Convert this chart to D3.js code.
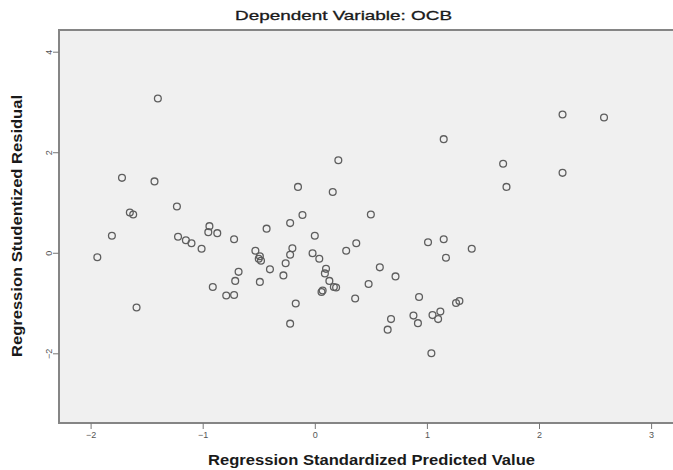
<!DOCTYPE html>
<html>
<head>
<meta charset="utf-8">
<script src="https://cdn.jsdelivr.net/npm/d3@7"></script>
<style>
  body { margin: 0; background: #ffffff; }
  svg { display: block; }
  .tickText { font-family: "Liberation Sans", Arial, sans-serif; font-size: 9px; fill: #555555; }
  .aText { font-family: "Liberation Sans", Arial, sans-serif; font-weight: bold; font-size: 14px; fill: #1a1a1a; }
</style>
</head>
<body>
<div id="scatter"></div>
<script>
// Chart data
var predictedValues = [
  -1.94, -1.81, -1.72, -1.65, -1.62, -1.59, -1.43, -1.40, -1.23, -1.22,
  -1.15, -1.10, -1.01, -0.94, -0.95, -0.87, -0.91, -0.72, -0.68, -0.71,
  -0.79, -0.72, -0.53, -0.49, -0.48, -0.50, -0.49, -0.43, -0.40, -0.28,
  -0.26, -0.22, -0.20, -0.22, -0.17, -0.22, -0.15, -0.11, 0.00, -0.02,
  0.04, 0.10, 0.09, 0.13, 0.07, 0.06, 0.17, 0.19, 0.16, 0.21,
  0.28, 0.37, 0.36, 0.50, 0.48, 0.58, 0.72, 0.65, 0.68, 0.88,
  0.92, 0.93, 1.01, 1.04, 1.05, 1.10, 1.12, 1.15, 1.15, 1.17,
  1.26, 1.29, 1.40, 1.68, 1.71, 2.21, 2.21, 2.58
];
var studentizedResiduals = [
  -0.09, 0.34, 1.49, 0.80, 0.76, -1.09, 1.42, 3.07, 0.92, 0.32,
  0.25, 0.19, 0.08, 0.53, 0.41, 0.39, -0.68, 0.27, -0.38, -0.56,
  -0.85, -0.84, 0.04, -0.07, -0.16, -0.12, -0.58, 0.48, -0.33, -0.45,
  -0.21, 0.59, 0.09, -0.04, -1.01, -1.41, 1.31, 0.75, 0.34, -0.01,
  -0.12, -0.32, -0.41, -0.56, -0.75, -0.78, -0.68, -0.69, 1.21, 1.84,
  0.04, 0.19, -0.91, 0.76, -0.62, -0.29, -0.47, -1.53, -1.32, -1.25,
  -1.40, -0.88, 0.21, -2.00, -1.24, -1.32, -1.17, 0.27, 2.26, -0.10,
  -1.00, -0.96, 0.08, 1.77, 1.31, 1.59, 2.75, 2.69
];
var xTickValues = [-2, -1, 0, 1, 2, 3];
var yTickValues = [-2, 0, 2, 4];

var chartTitle = "Dependent Variable: OCB";
var xLabel = "Regression Standardized Predicted Value";
var yLabel = "Regression Studentized Residual";

// Canvas size
var width = 673;
var height = 470;

// Plot frame edges
var plotLeft = 59;
var plotTop = 30;
var plotBottom = 423;
var plotRight = 690;

var svg = d3
  .select("#scatter")
  .append("svg")
  .attr("width", width)
  .attr("height", height);

// Scales
var xScale = d3.scaleLinear().domain([-2, 3]).range([90.6, 651.1]);
var yScale = d3.scaleLinear().domain([-2, 4]).range([353.3, 51.7]);

// Grey plot background
svg
  .append("rect")
  .attr("x", plotLeft)
  .attr("y", plotTop)
  .attr("width", plotRight - plotLeft)
  .attr("height", plotBottom - plotTop)
  .attr("fill", "#f0f0f0")
  .attr("stroke", "#858585")
  .attr("stroke-width", 2);

// Bottom axis
var xAxis = d3.axisBottom(xScale)
  .tickValues(xTickValues)
  .tickSize(6)
  .tickFormat(d3.format("d"));
var xAxisG = svg
  .append("g")
  .attr("transform", "translate(0," + plotBottom + ")")
  .call(xAxis);
xAxisG.select(".domain").remove();
xAxisG.attr("font-size", null).attr("font-family", null);
xAxisG.selectAll("line").attr("stroke", "#777777");
xAxisG.selectAll("text")
  .attr("class", "tickText")
  .attr("y", 9)
  .attr("dy", "0.71em");

// Left axis, labels are rotated like the original
var yAxis = d3.axisLeft(yScale)
  .tickValues(yTickValues)
  .tickSize(6)
  .tickFormat(d3.format("d"));
var yAxisG = svg
  .append("g")
  .attr("transform", "translate(" + plotLeft + ",0)")
  .call(yAxis);
yAxisG.select(".domain").remove();
yAxisG.attr("font-size", null).attr("font-family", null);
yAxisG.selectAll("line").attr("stroke", "#777777");
yAxisG.selectAll("text")
  .attr("class", "tickText")
  .attr("x", null)
  .attr("dy", null)
  .attr("text-anchor", "middle")
  .attr("transform", "translate(-7,0)rotate(-90)");

// Points
svg
  .append("g")
  .selectAll("circle")
  .data(predictedValues)
  .enter()
  .append("circle")
  .attr("cx", function(d) {
    return xScale(d);
  })
  .attr("cy", function(d, i) {
    return yScale(studentizedResiduals[i]);
  })
  .attr("r", 3.4)
  .attr("fill", "none")
  .attr("stroke", "#5e5e5e")
  .attr("stroke-width", 1.3);

// Title
svg
  .append("text")
  .attr("x", 343.5)
  .attr("y", 20)
  .attr("text-anchor", "middle")
  .attr("textLength", 217)
  .attr("lengthAdjust", "spacingAndGlyphs")
  .style("font-family", "Liberation Sans, Arial, sans-serif")
  .style("font-size", "13px")
  .style("fill", "#1a1a1a")
  .style("stroke", "#1a1a1a")
  .style("stroke-width", 0.3)
  .text(chartTitle);

// Axis labels
svg
  .append("text")
  .attr("class", "aText")
  .attr("x", 371.5)
  .attr("y", 465)
  .attr("text-anchor", "middle")
  .attr("textLength", 327)
  .attr("lengthAdjust", "spacingAndGlyphs")
  .text(xLabel);

svg
  .append("text")
  .attr("class", "aText")
  .attr("transform", "translate(22,226)rotate(-90)")
  .attr("text-anchor", "middle")
  .attr("textLength", 262)
  .attr("lengthAdjust", "spacingAndGlyphs")
  .text(yLabel);
</script>
</body>
</html>
